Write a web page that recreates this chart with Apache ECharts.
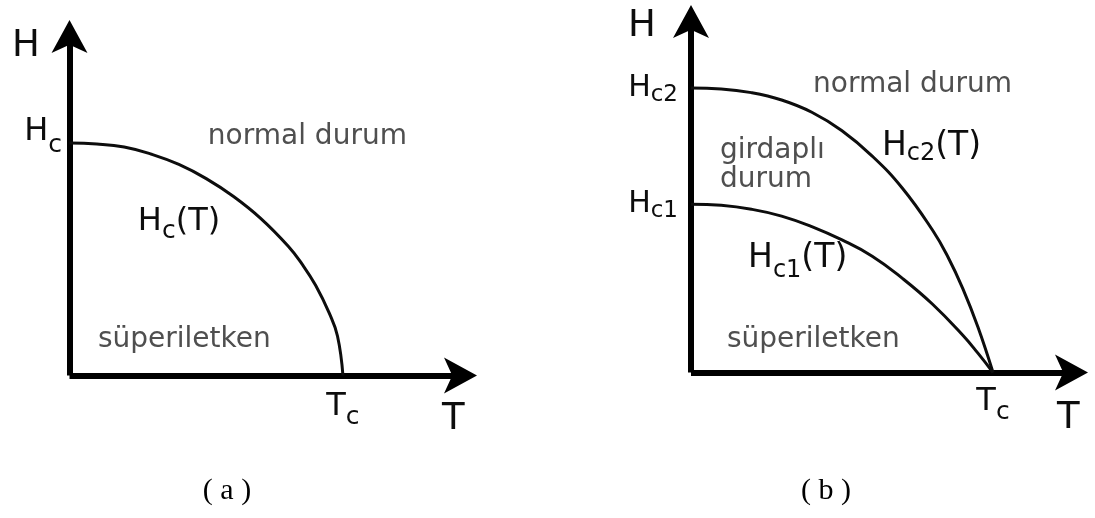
<!DOCTYPE html>
<html>
<head>
<meta charset="utf-8">
<script src="https://cdn.jsdelivr.net/npm/echarts@6/dist/echarts.min.js"></script>
<style>
  html, body { margin: 0; padding: 0; background: #fff; }
  #chart { width: 1095px; height: 518px; }
</style>
</head>
<body>
<div id="chart"></div>
<script>
// ---- (a) type-I superconductor: critical field curve Hc(T)
// T in units of Tc, H in units of Hc(0)
const tA  = [0, 0.1, 0.2, 0.3, 0.4, 0.5, 0.6, 0.7, 0.8, 0.85, 0.9, 0.95, 0.98, 1];
const hcA = [1, 0.996, 0.983, 0.952, 0.908, 0.847, 0.770, 0.675, 0.556, 0.480, 0.388, 0.268, 0.170, 0];

// ---- (b) type-II superconductor: upper and lower critical fields
// T in units of Tc, H in units of Hc2(0)
const tB2  = [0, 0.1, 0.2, 0.3, 0.4, 0.5, 0.6, 0.7, 0.8, 0.85, 0.9, 0.95, 1];
const hc2B = [1, 0.997, 0.984, 0.958, 0.915, 0.850, 0.761, 0.648, 0.500, 0.408, 0.295, 0.160, 0];
const tB1  = [0, 0.1, 0.2, 0.3, 0.4, 0.5, 0.6, 0.7, 0.8, 0.9, 0.95, 1];
const hc1B = [0.592, 0.588, 0.574, 0.550, 0.513, 0.466, 0.409, 0.331, 0.240, 0.131, 0.068, 0];

// tick labels: [value, main letter, subscript]
const yTicksA = [[1, 'H', 'c']];
const xTicksA = [[1, 'T', 'c']];
const yTicksB = [[hc1B[0], 'H', 'c1'], [hc2B[0], 'H', 'c2']];
const xTicksB = [[1, 'T', 'c']];

// axis titles, region names, curve names
const axisNames   = ['H', 'T'];
const regionsA    = ['normal durum', 'süperiletken'];
const regionsB    = ['normal durum', 'girdaplı\ndurum', 'süperiletken'];
const curveNameA  = ['H', 'c', '(T)'];
const curveNamesB = [['H', 'c2', '(T)'], ['H', 'c1', '(T)']];
const captions    = ['( a )', '( b )'];

const FONT = '"DejaVu Sans", Verdana, sans-serif';
const INK = '#0d0d0d';
const GREY = '#4f4f4f';

const noStroke = { textBorderWidth: 0, textBorderColor: 'transparent' };
function mainStyle(size) { return Object.assign({ fontFamily: FONT, fontSize: size, color: INK }, noStroke); }
function subStyle(size, drop) { return Object.assign({ fontFamily: FONT, fontSize: size, color: INK, padding: [drop, 0, 0, 0] }, noStroke); }

const richStyles = {
  // panel (a) curve / tick labels
  ma: mainStyle(32), sa: subStyle(25, 20), sa2: subStyle(25, 28),
  // panel (b) tick labels
  mt: mainStyle(30), st: subStyle(23, 14),
  // panel (b) curve labels
  mb: mainStyle(33), sb: subStyle(24, 14), sb2: subStyle(24, 24),
  big: mainStyle(37),
  rg: Object.assign({ fontFamily: FONT, fontSize: 28, color: GREY, lineHeight: 29 }, noStroke)
};

function subText(main, sub, tail, m, s) {
  return '{' + m + '|' + main + '}{' + s + '|' + sub + '}' + (tail ? '{' + m + '|' + tail + '}' : '');
}

function tickFormatter(ticks, m, s) {
  return function (v) {
    for (const t of ticks) {
      if (Math.abs(t[0] - v) < 1e-6) return subText(t[1], t[2], '', m, s);
    }
    return '';
  };
}

// arrow-headed axis line; the head is pushed 8px past the axis end
const axisLine = {
  show: true,
  onZero: false,
  symbol: ['none', 'arrow'],
  symbolSize: [27, 33],
  symbolOffset: [0, 8],
  lineStyle: { color: '#000', width: 6, cap: 'butt' }
};

function valueAxis(grid, max, extra) {
  return Object.assign({
    type: 'value', gridIndex: grid, min: 0, max: max,
    splitLine: { show: false },
    axisTick: { show: false },
    axisLine: axisLine
  }, extra);
}

// text placed in data coordinates of a panel
function notes(list, idx) {
  return {
    type: 'scatter', xAxisIndex: idx, yAxisIndex: idx,
    symbolSize: 0, silent: true, clip: false, z: 5,
    itemStyle: { color: '#000', opacity: 1 },
    label: Object.assign({ show: true, opacity: 1, position: [0, 0], align: 'left', verticalAlign: 'middle', color: INK, rich: richStyles }, noStroke),
    data: list.map(n => ({ value: n.at, label: { formatter: n.text } }))
  };
}

function curve(xs, ys, idx) {
  return {
    type: 'line', xAxisIndex: idx, yAxisIndex: idx,
    data: xs.map((x, i) => [x, ys[i]]),
    smooth: 0.45, symbol: 'none', silent: true,
    lineStyle: { color: INK, width: 3 }
  };
}

const chart = echarts.init(document.getElementById('chart'), null, { renderer: 'canvas' });

chart.setOption({
  animation: false,
  backgroundColor: '#fff',
  grid: [
    { left: 69.5, top: 28, right: 626, bottom: 142.5 },
    { left: 691, top: 13, right: 15, bottom: 145.5 }
  ],
  xAxis: [
    valueAxis(0, 1.461, {
      axisLabel: { customValues: xTicksA.map(t => t[0]), formatter: tickFormatter(xTicksA, 'ma', 'sa'), margin: 9, rich: richStyles }
    }),
    valueAxis(1, 1.288, {
      axisLabel: { customValues: xTicksB.map(t => t[0]), formatter: tickFormatter(xTicksB, 'ma', 'sa'), margin: 7, rich: richStyles }
    })
  ],
  yAxis: [
    valueAxis(0, 1.495, {
      axisLabel: { customValues: yTicksA.map(t => t[0]), formatter: tickFormatter(yTicksA, 'ma', 'sa2'), margin: 7.5, padding: [0, 0, 23, 0], rich: richStyles }
    }),
    valueAxis(1, 1.264, {
      axisLabel: { customValues: yTicksB.map(t => t[0]), formatter: tickFormatter(yTicksB, 'mt', 'st'), margin: 13, rich: richStyles }
    })
  ],
  series: [
    curve(tA, hcA, 0),
    curve(tB2, hc2B, 1),
    curve(tB1, hc1B, 1),
    notes([
      { text: '{big|' + axisNames[0] + '}', at: [-0.21, 1.417] },
      { text: '{big|' + axisNames[1] + '}', at: [1.362, -0.187] },
      { text: '{rg|' + regionsA[0] + '}', at: [0.506, 1.026] },
      { text: '{rg|' + regionsA[1] + '}', at: [0.104, 0.153] },
      { text: subText(curveNameA[0], curveNameA[1], curveNameA[2], 'ma', 'sa'), at: [0.25, 0.662] }
    ], 0),
    notes([
      { text: '{big|' + axisNames[0] + '}', at: [-0.209, 1.218] },
      { text: '{big|' + axisNames[1] + '}', at: [1.212, -0.163] },
      { text: '{rg|' + regionsB[0] + '}', at: [0.404, 1.011] },
      { text: '{rg|' + regionsB[1].split('\n').join('}\n{rg|') + '}', at: [0.096, 0.728] },
      { text: '{rg|' + regionsB[2] + '}', at: [0.119, 0.114] },
      { text: subText(curveNamesB[0][0], curveNamesB[0][1], curveNamesB[0][2], 'mb', 'sb'), at: [0.632, 0.794] },
      { text: subText(curveNamesB[1][0], curveNamesB[1][1], curveNamesB[1][2], 'mb', 'sb2'), at: [0.189, 0.40] }
    ], 1)
  ],
  graphic: captions.map((c, i) => ({
    type: 'text',
    x: i === 0 ? 227 : 826,
    y: 491,
    style: { text: c, fill: '#000', font: '30px "Liberation Serif", "Times New Roman", serif', align: 'center', verticalAlign: 'middle' }
  }))
});
</script>
</body>
</html>
